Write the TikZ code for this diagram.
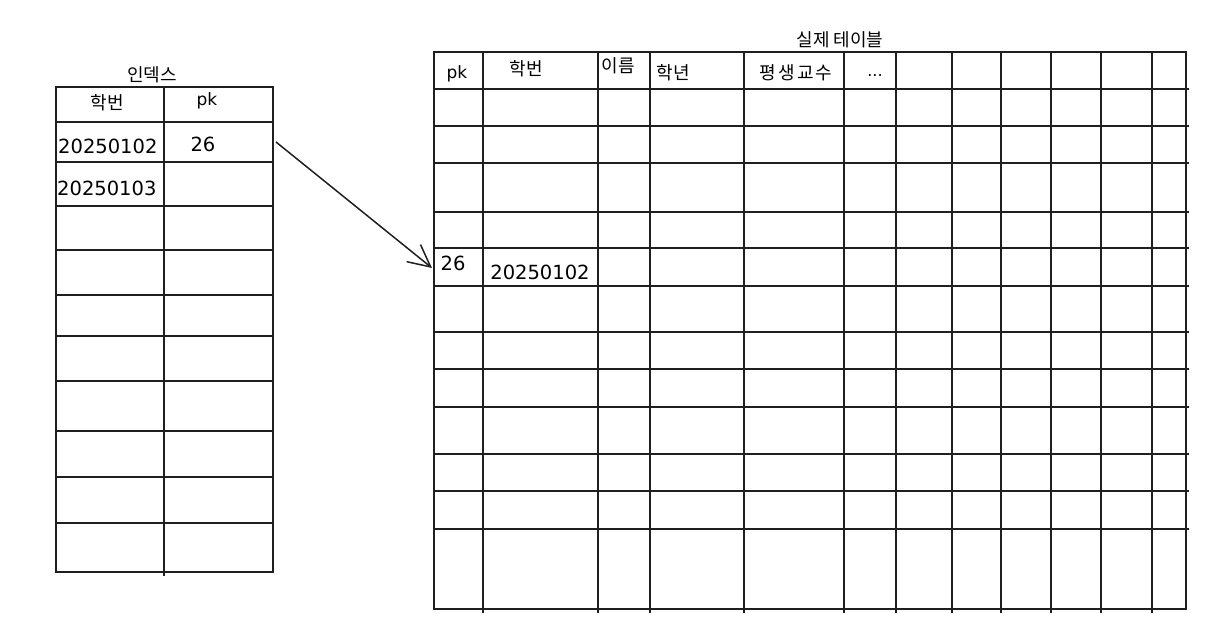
\documentclass[tikz,border=0pt]{standalone}
\usepackage{fontspec}
\setmainfont{DejaVu Sans}
\newfontfamily\kr{Noto Sans CJK KR}
\newfontfamily\krwide[LetterSpace=12]{Noto Sans CJK KR}
\usetikzlibrary{arrows.meta}
\begin{document}
\begin{tikzpicture}[x=1pt,y=-1pt,
  grid/.style={line width=1.6pt,draw=black!88},
  kor/.style={font=\kr\fontsize{18}{18}\selectfont,inner sep=0pt},
  num/.style={font=\fontsize{19.5}{20}\selectfont,inner sep=0pt},
  lat/.style={font=\fontsize{17}{17}\selectfont,inner sep=0pt},
  link/.style={line width=1.5pt,draw=black!88,-{Straight Barb[length=22pt,width=22pt,line width=1.5pt]}}]
\useasboundingbox (0,0) rectangle (1210,628);
% ---------- left table (index) ----------
\draw[grid] (56,87) rectangle (273,572);
\foreach \y in {122,162,206,250,295,336,381,431,477,523}
  \draw[grid] (56,\y) -- (274,\y);
\draw[grid] (164,87) -- (164,576);
\node[kor] (ltitle) at (152,75) {인덱스};
\node[kor] (lh1) at (107,103) {학번};
\node[lat] (lh2) at (207,101) {pk};
\node[num,anchor=west] (lr1) at (58,146) {20250102};
\node[num] (lr1pk) at (203,144) {26};
\node[num,anchor=west] (lr2) at (57,188) {20250103};
% ---------- right table (actual table) ----------
\draw[grid] (434,52) rectangle (1186,609);
\foreach \y in {89,126,163,212,248,286,332,369,407,454,491,529}
  \draw[grid] (434,\y) -- (1189,\y);
\foreach \x in {483,598,650,744,844,896,952,1001,1051,1101,1152}
  \draw[grid] (\x,52) -- (\x,613);
\node[kor] (rtitle) at (840,40) {실제 테이블};
\node[lat] (rh1) at (457,74) {pk};
\node[kor] (rh2) at (526,69) {학번};
\node[kor] (rh3) at (618,66) {이름};
\node[kor] (rh4) at (673,73) {학년};
\node[kor,font=\krwide\fontsize{18}{18}\selectfont] (rh5) at (796,73) {평생교수};
\node[lat,font=\fontsize{16}{16}\selectfont] (rh6) at (875,76) {...};
\node[num] (rr1pk) at (453,263) {26};
\node[num] (rr1) at (540,272) {20250102};
% ---------- connector ----------
\coordinate (a1) at (276,142);
\coordinate (a2) at (432,268);
\draw[link] (a1) -- (a2);
\end{tikzpicture}
\end{document}
